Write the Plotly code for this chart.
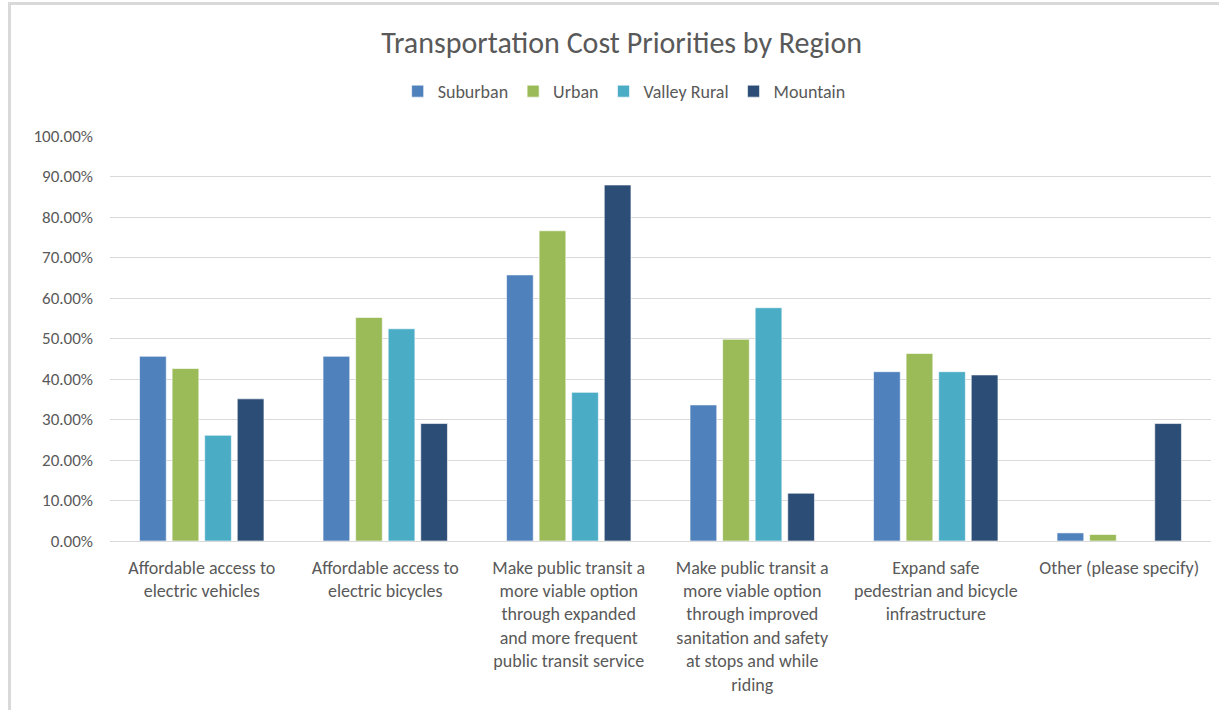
import plotly.graph_objects as go

categories = [
    "Affordable access to<br>electric vehicles",
    "Affordable access to<br>electric bicycles",
    "Make public transit a<br>more viable option<br>through expanded<br>and more frequent<br>public transit service",
    "Make public transit a<br>more viable option<br>through improved<br>sanitation and safety<br>at stops and while<br>riding",
    "Expand safe<br>pedestrian and bicycle<br>infrastructure",
    "Other (please specify)",
]

suburban = [0.456, 0.456, 0.657, 0.336, 0.418, 0.020]
urban = [0.426, 0.552, 0.766, 0.498, 0.463, 0.016]
valley_rural = [0.261, 0.524, 0.367, 0.576, 0.418, 0.0]
mountain = [0.351, 0.290, 0.879, 0.118, 0.410, 0.290]

series = [
    ("Suburban", suburban, "#4F81BD"),
    ("Urban", urban, "#9BBB59"),
    ("Valley Rural", valley_rural, "#4BACC6"),
    ("Mountain", mountain, "#2C4D75"),
]

FONT = "Carlito, Lato, Open Sans, sans-serif"

fig = go.Figure()
for name, vals, color in series:
    fig.add_trace(go.Bar(
        name=name, x=categories, y=vals,
        marker=dict(color=color, line=dict(color="rgba(255,255,255,0.6)", width=1)),
    ))

fig.update_layout(
    width=1219, height=710,
    paper_bgcolor="white", plot_bgcolor="white",
    barmode="group", bargap=0.29, bargroupgap=0.18,
    margin=dict(l=110, r=8, t=136, b=169),
    font=dict(family=FONT, color="#595959", size=15),
    title=dict(text="Transportation Cost Priorities by Region", x=0.51, xanchor="center",
               y=0.94, yanchor="middle", font=dict(size=30, color="#595959", family=FONT)),
    legend=dict(orientation="h", x=0.467, xanchor="center", y=1.11, yanchor="middle",
                font=dict(size=18, color="#595959", family=FONT), itemwidth=30,
                traceorder="normal"),
    showlegend=True,
)
fig.update_yaxes(range=[0, 1.0], dtick=0.1, tickformat=".2%", showgrid=True,
                 gridcolor="#D9D9D9", gridwidth=1, zeroline=False, showline=False,
                 ticks="", ticklabelstandoff=16, tickfont=dict(size=17, color="#595959"))
fig.update_xaxes(showline=True, linecolor="#D9D9D9", linewidth=1, ticks="",
                 ticklabelstandoff=10,
                 tickfont=dict(size=18, color="#595959"), tickangle=0)

# outer chart frame (left and top edges visible as in the reference)
fig.add_shape(type="rect", xref="paper", yref="paper",
              x0=-100.5/1101, x1=1.015, y0=-0.45, y1=1.327,
              line=dict(color="#D9D9D9", width=3), fillcolor="rgba(0,0,0,0)", layer="below")

fig.write_html("out.html", config={"displayModeBar": False})

with open("out.html", "r", encoding="utf-8") as f:
    html = f.read()
html = html.replace("<head>", "<head><style>html,body{margin:0;padding:0;}</style>", 1)
with open("out.html", "w", encoding="utf-8") as f:
    f.write(html)
